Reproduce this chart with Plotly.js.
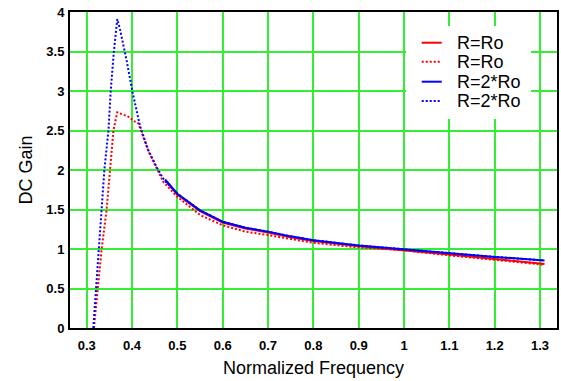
<!DOCTYPE html>
<html>
<head>
<meta charset="utf-8">
<script src="https://cdn.plot.ly/plotly-3.0.1.min.js"></script>
<style>html,body{margin:0;padding:0;background:#fff;}#chart{width:561px;height:381px;}</style>
</head>
<body>
<div id="chart"></div>
<script>
// Series names (legend labels)
const seriesNames = ["R=Ro", "R=Ro", "R=2*Ro", "R=2*Ro"];
const seriesColors = ["#ff0000", "#ff0000", "#0000ff", "#0000ff"];
const seriesDash = ["solid", "2px,2px", "solid", "2px,2px"];

// R=Ro, solid
const redSolidX = [0.473, 0.5, 0.55, 0.6, 0.65, 0.7, 0.75, 0.8, 0.9, 1.0, 1.1, 1.2, 1.31];
const redSolidY = [1.87, 1.69, 1.48, 1.335, 1.26, 1.21, 1.15, 1.10, 1.035, 0.985, 0.93, 0.875, 0.81];

// R=Ro, dotted
const redDotX = [0.316, 0.324, 0.333, 0.344, 0.351, 0.359, 0.3675, 0.385, 0.394, 0.404, 0.414, 0.436, 0.454, 0.469, 0.5, 0.55, 0.6, 0.65, 0.7, 0.8, 0.9, 1.0, 1.1, 1.2, 1.31];
const redDotY = [0, 0.5, 1.0, 1.5, 2.0, 2.5, 2.73, 2.69, 2.67, 2.62, 2.59, 2.24, 2.02, 1.85, 1.66, 1.43, 1.30, 1.22, 1.176, 1.078, 1.02, 0.985, 0.92, 0.867, 0.80];

// R=2*Ro, solid
const blueSolidX = [0.473, 0.5, 0.55, 0.6, 0.65, 0.7, 0.75, 0.8, 0.9, 1.0, 1.1, 1.2, 1.31];
const blueSolidY = [1.88, 1.70, 1.49, 1.345, 1.27, 1.22, 1.16, 1.112, 1.045, 0.994, 0.943, 0.90, 0.855];

// R=2*Ro, dotted
const blueDotX = [0.3146, 0.3205, 0.328, 0.334, 0.339, 0.348, 0.353, 0.360, 0.3675, 0.3735, 0.388, 0.401, 0.418, 0.436, 0.454, 0.47, 0.5, 0.55, 0.6, 0.65, 0.7, 0.75, 0.8, 0.9, 1.0, 1.1, 1.2, 1.31];
const blueDotY = [0, 0.5, 1.0, 1.5, 2.0, 2.5, 3.0, 3.5, 3.91, 3.78, 3.39, 2.99, 2.55, 2.25, 2.04, 1.88, 1.70, 1.49, 1.345, 1.27, 1.22, 1.16, 1.112, 1.045, 0.994, 0.943, 0.90, 0.855];

const xs = [redSolidX, redDotX, blueSolidX, blueDotX];
const ys = [redSolidY, redDotY, blueSolidY, blueDotY];

const traces = xs.map((x, i) => ({
  x: x, y: ys[i], name: seriesNames[i], mode: "lines", showlegend: false,
  line: {color: seriesColors[i], width: 2, dash: seriesDash[i]}
}));

const FONT = "Liberation Sans, Arial, sans-serif";

// Custom legend (box, samples, labels) in axis-domain fractions
const legRowsY = [0.9028, 0.8427, 0.7794, 0.7184];
const shapes = [{
  type: "rect", xref: "x domain", yref: "y domain",
  x0: 0.690, x1: 0.9466, y0: 0.6614, y1: 0.9557,
  fillcolor: "#fff", line: {width: 0}, layer: "above"
}];
const annotations = [];
seriesNames.forEach((n, i) => {
  shapes.push({
    type: "line", xref: "x domain", yref: "y domain",
    x0: 0.7222, x1: 0.7633, y0: legRowsY[i], y1: legRowsY[i],
    line: {color: seriesColors[i], width: 2, dash: seriesDash[i]}, layer: "above"
  });
  annotations.push({
    xref: "x domain", yref: "y domain", x: 0.7915, y: legRowsY[i],
    xanchor: "left", yanchor: "middle", showarrow: false, text: n,
    font: {family: FONT, size: 18, color: "#000"}
  });
});

const tickFont = {family: FONT, size: 13, color: "#000", weight: "bold"};
const layout = {
  width: 561, height: 381,
  margin: {l: 70, r: 4, t: 12, b: 53},
  paper_bgcolor: "#fff", plot_bgcolor: "#fff",
  showlegend: false,
  shapes: shapes,
  annotations: annotations,
  xaxis: {
    range: [0.2632, 1.3375], dtick: 0.1, tick0: 0,
    showgrid: true, gridcolor: "#33ee33", gridwidth: 2,
    showline: true, linecolor: "#000", linewidth: 2, mirror: true,
    zeroline: false, ticks: "outside", ticklen: 4, tickcolor: "rgba(0,0,0,0)",
    tickfont: tickFont,
    title: {text: "Normalized Frequency", font: {family: FONT, size: 18, color: "#000"}, standoff: 10}
  },
  yaxis: {
    range: [0, 4], dtick: 0.5, tick0: 0,
    showgrid: true, gridcolor: "#33ee33", gridwidth: 2,
    showline: true, linecolor: "#000", linewidth: 2, mirror: true,
    zeroline: false, ticks: "outside", ticklen: 1, tickcolor: "rgba(0,0,0,0)",
    tickfont: tickFont,
    title: {text: "DC Gain", font: {family: FONT, size: 18, color: "#000"}, standoff: 9}
  }
};

Plotly.newPlot("chart", traces, layout, {displayModeBar: false, staticPlot: true});
</script>
</body>
</html>
